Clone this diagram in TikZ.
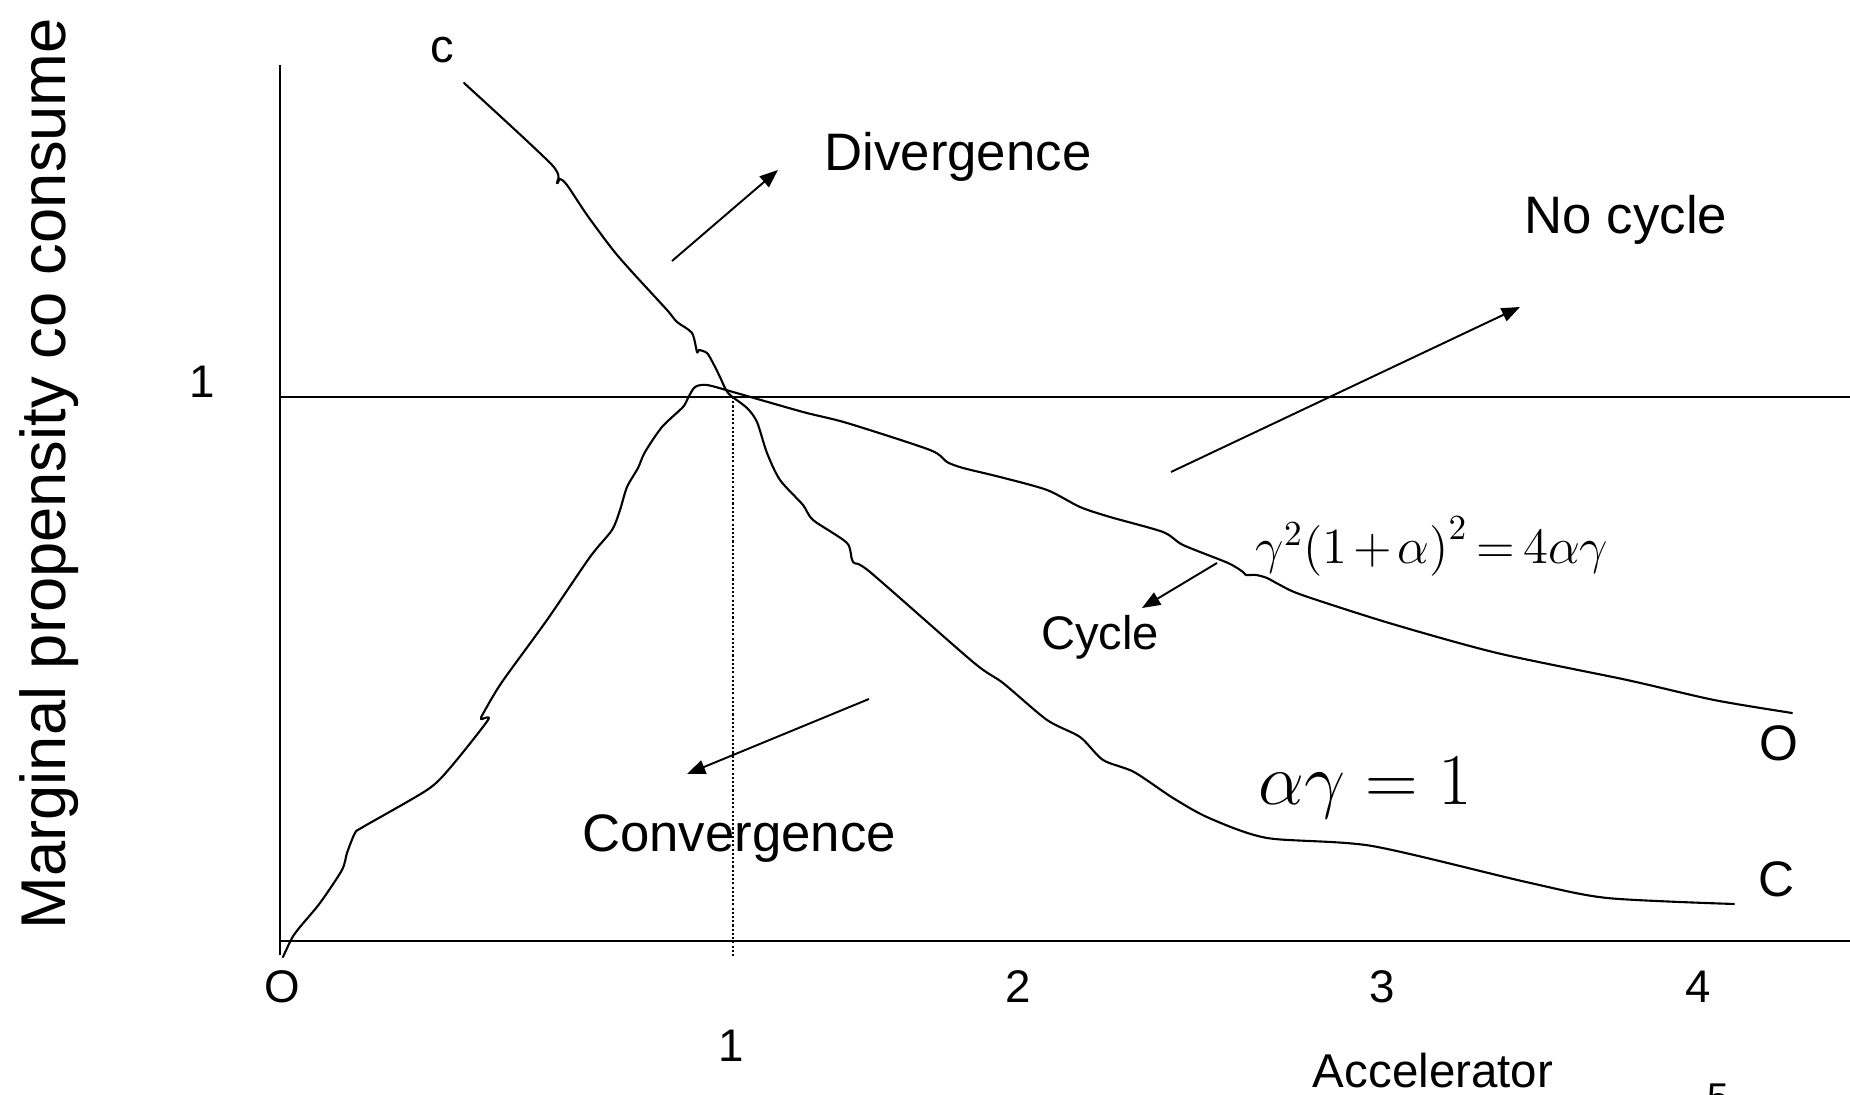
\documentclass[tikz,border=0pt]{standalone}
\usepackage{fontspec}
\setmainfont{Liberation Sans}
\usetikzlibrary{arrows.meta}
\begin{document}
\begin{tikzpicture}[x=0.01cm,y=-0.01cm,
  lbl/.style={font=\fontsize{15}{18}\selectfont, inner sep=0pt},
  smalllbl/.style={font=\fontsize{13.4}{16}\selectfont, inner sep=0pt},
  num/.style={font=\fontsize{13}{15}\selectfont, inner sep=0pt},
  axisline/.style={line width=0.6pt},
  curveline/.style={line width=0.6pt, line join=round, line cap=round},
  arr/.style={line width=0.55pt, -{Triangle[length=5.2pt,width=4pt]}},
  dotline/.style={line width=0.35pt, dash pattern=on 0.6pt off 0.6pt}]
\useasboundingbox (0,0) rectangle (1850,1095);
% axes
\coordinate (ytop) at (280,65);
\coordinate (ybot) at (280,955);
\coordinate (xl) at (280,941);
\coordinate (xr) at (1850,941);
\coordinate (ol) at (280,397);
\coordinate (or) at (1850,397);
\coordinate (dt) at (733,397);
\coordinate (db) at (733,956);
\draw[axisline] (ytop) -- (ybot);
\draw[axisline] (xl) -- (xr);
\draw[axisline] (ol) -- (or);
\draw[dotline] (dt) -- (db);
% descending curve c -> C
\draw[curveline] plot[smooth, tension=0.45] coordinates {
 (464,83) (552,165) (557,183) (560,179) (567,185) (587,215) (613,250) (633,273)
 (667,310) (677,322) (692,333) (697,352) (699,350) (707,353) (713,363) (720,377)
 (725,388) (730,395) (747,408) (757,422) (767,453) (780,480) (803,505) (813,520)
 (847,543) (853,562) (870,572) (973,662) (1003,683) (1047,720) (1080,737)
 (1103,760) (1134,772) (1173,798) (1209,818) (1267,838) (1372,846) (1526,882)
 (1607,898) (1734,904)};
% rising curve O -> peak -> O
\draw[curveline] plot[smooth, tension=0.45] coordinates {
 (283,957) (292,938) (300,927) (320,903) (342,870) (347,853) (355,833) (363,827)
 (427,790) (450,768) (488,720) (481,719) (484,712) (502,682) (547,620) (590,557)
 (612,530) (620,510) (627,487) (638,468) (645,452) (662,427) (683,407) (688,398)
 (695,387) (707,385) (733,392) (803,412) (847,423) (930,450) (947,462) (963,468)
 (1000,477) (1047,490) (1080,507) (1110,517) (1163,532) (1183,545) (1228,563)
 (1243,572) (1246,575) (1256,575) (1267,578) (1280,585) (1302,595) (1389,623)
 (1497,653) (1627,680) (1714,700) (1792,713)};
% arrows
\coordinate (divT) at (672,261);
\coordinate (divH) at (778,170);
\coordinate (ncT) at (1171,472);
\coordinate (ncH) at (1520,307);
\coordinate (cyT) at (1217,563);
\coordinate (cyH) at (1142,608);
\coordinate (cvT) at (869,699);
\coordinate (cvH) at (687,774);
\draw[arr] (divT) -- (divH);
\draw[arr] (ncT) -- (ncH);
\draw[arr] (cyT) -- (cyH);
\draw[arr] (cvT) -- (cvH);
% labels
\node[smalllbl, anchor=base] (lc) at (442,63) {c};
\node[lbl, anchor=base] (ldiv) at (958,171) {Divergence};
\node[lbl, anchor=base] (lnc) at (1626,234) {No cycle};
\node[smalllbl, anchor=base] (lcy) at (1100,650) {Cycle};
\node[lbl, anchor=base] (lcv) at (739,852) {Convergence};
\node[font=\fontsize{14.2}{17}\selectfont, inner sep=0pt, anchor=base] (lO) at (1779,761) {O};
\node[font=\fontsize{14.2}{17}\selectfont, inner sep=0pt, anchor=base] (lC) at (1777,897) {C};
\node[num, anchor=base] (n0) at (282,1003) {O};
\node[num, anchor=base] (n2) at (1018,1003) {2};
\node[num, anchor=base] (n3) at (1382,1003) {3};
\node[num, anchor=base] (n4) at (1698,1003) {4};
\node[num, anchor=base] (n1b) at (731,1062) {1};
\node[num, anchor=base] (n1l) at (202,398) {1};
\node[font=\fontsize{13.5}{16}\selectfont, inner sep=0pt, anchor=base] (lacc) at (1433,1088) {Accelerator};
\node[font=\fontsize{11}{13}\selectfont, inner sep=0pt, anchor=base] (l5) at (1718,1111) {5};
\node[font=\fontsize{18}{21}\selectfont, inner sep=0pt, anchor=base west, rotate=90] (ylab) at (65,930) {Marginal propensity co consume};
\node[font=\fontsize{14.5}{17}\selectfont, inner sep=0pt, anchor=base west] (f1) at (1255,564) {\medmuskip=2mu\thickmuskip=3mu$\gamma^{2}\bigl(1+\alpha\bigr)^{2}=4\alpha\gamma$};
\node[font=\fontsize{21}{25}\selectfont, inner sep=0pt, anchor=base west] (f2) at (1258,805) {$\alpha\gamma=1$};
\end{tikzpicture}
\end{document}
